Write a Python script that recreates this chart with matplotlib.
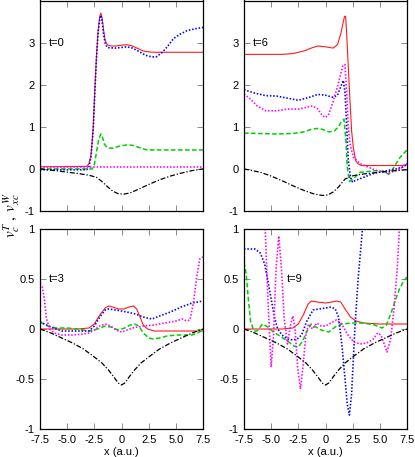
import matplotlib
matplotlib.use('Agg')
import matplotlib.pyplot as plt

plt.rcParams['font.family'] = ['Liberation Sans', 'DejaVu Sans']
plt.rcParams['mathtext.fontset'] = 'stix'

# ---------------------------------------------------------------------------
# Data
# ---------------------------------------------------------------------------

# t = 0
t0_red_x = [-7.5, -3.2, -3.0, -2.8, -2.6, -2.45, -2.3, -2.15, -2.0, -1.9, -1.8, -1.65, -1.5, -1.3,
            -1.0, -0.5, 0, 0.5, 1.0, 1.5, 2.0, 2.5, 3.0, 7.5]
t0_red_y = [0.05, 0.06, 0.12, 0.35, 1.0, 1.9, 2.7, 3.3, 3.62, 3.7, 3.6, 3.3, 3.05, 2.95,
            2.92, 2.92, 2.94, 2.95, 2.92, 2.86, 2.8, 2.78, 2.77, 2.77]
t0_blue_x = [-7.5, -3.2, -3.0, -2.8, -2.6, -2.45, -2.3, -2.15, -2.0, -1.9, -1.8, -1.65, -1.5, -1.3,
             -0.5, 0.5, 1.0, 1.6, 2.2, 2.8, 3.2, 3.8, 4.3, 4.8, 5.4, 6.0, 6.8, 7.5]
t0_blue_y = [-0.02, -0.02, 0.05, 0.3, 0.95, 1.85, 2.65, 3.25, 3.55, 3.65, 3.55, 3.2, 2.98, 2.88,
             2.87, 2.9, 2.87, 2.79, 2.7, 2.66, 2.66, 2.78, 2.93, 3.1, 3.2, 3.28, 3.33, 3.36]
t0_green_x = [-7.5, -2.7, -2.5, -2.3, -2.1, -1.9, -1.75, -1.55, -1.3, -0.8, -0.2, 0.5, 1.0, 1.6,
              2.2, 2.8, 7.5]
t0_green_y = [0.0, 0.0, 0.1, 0.4, 0.7, 0.83, 0.75, 0.58, 0.5, 0.49, 0.54, 0.57, 0.56, 0.51,
              0.46, 0.45, 0.45]
t0_mag_x = [-7.5, 7.5]
t0_mag_y = [0.05, 0.05]
t0_black_x = [-7.5, -5.5, -4, -3, -2.3, -1.8, -1.3, -0.8, -0.3, 0.2, 0.8, 1.5, 2.5, 3.5, 4.5, 5.5,
              6.5, 7.5]
t0_black_y = [0.0, -0.06, -0.11, -0.15, -0.2, -0.3, -0.42, -0.53, -0.59, -0.6, -0.57, -0.49,
              -0.37, -0.26, -0.17, -0.1, -0.04, 0.0]

# t = 6
t6_red_x = [-7.5, -4, -3, -2, -1.2, -0.7, 0, 0.7, 1.1, 1.4, 1.6, 1.75, 1.85, 1.95, 2.1, 2.25,
            2.4, 2.56, 2.77, 3.0, 3.3, 7.0, 7.5]
t6_red_y = [2.72, 2.72, 2.74, 2.8, 2.88, 2.92, 2.9, 2.87, 2.95, 3.2, 3.45, 3.62, 3.63, 3.2, 2.42,
            1.63, 0.91, 0.51, 0.2, 0.12, 0.08, 0.08, 0.1]
t6_blue_x = [-7.5, -6.5, -5.5, -4.5, -3.5, -2.5, -1.5, -0.7, 0, 0.7, 1.1, 1.4, 1.64, 1.8, 1.95,
             2.1, 2.3, 2.5, 2.7, 3.0, 3.8, 4.5, 5.5, 6.5, 7.2, 7.5]
t6_blue_y = [1.88, 1.8, 1.74, 1.73, 1.68, 1.63, 1.7, 1.77, 1.75, 1.7, 1.75, 1.95, 2.1, 1.8, 1.0,
             0.2, -0.2, -0.32, -0.28, -0.25, -0.17, -0.1, -0.05, 0.0, 0.05, 0.12]
t6_mag_x = [-7.5, -7, -6.3, -5.5, -4.5, -3.5, -2.5, -1.8, -1.2, -0.7, -0.3, 0.0, 0.3, 0.7, 1.1,
            1.4, 1.6, 1.79, 1.95, 2.1, 2.25, 2.56, 3.2, 4.7, 5.8, 6.85, 7.5]
t6_mag_y = [1.78, 1.68, 1.5, 1.38, 1.38, 1.42, 1.42, 1.46, 1.5, 1.42, 1.27, 1.22, 1.3, 1.6, 1.95,
            2.25, 2.45, 2.48, 1.8, 1.0, 0.6, 0.28, 0.12, -0.04, -0.1, 0.0, 0.13]
t6_green_x = [-7.5, -6, -4.5, -3, -2, -1.3, -0.8, -0.3, 0.3, 0.8, 1.2, 1.45, 1.7, 1.88, 2.0, 2.2,
              2.5, 3.2, 4.7, 5.4, 5.8, 6.2, 6.85, 7.5]
t6_green_y = [0.85, 0.84, 0.83, 0.84, 0.88, 0.94, 0.96, 0.94, 0.88, 0.9, 1.0, 1.12, 1.18, 0.67,
              0.05, -0.3, -0.25, -0.08, -0.04, -0.06, -0.13, 0.0, 0.27, 0.45]
t6_black_x = [-7.5, -6, -5, -4, -3, -2, -1, -0.3, 0.2, 0.7, 1.2, 1.8, 2.56, 3.5, 5.0, 6.5, 7.5]
t6_black_y = [0.0, -0.08, -0.17, -0.28, -0.4, -0.51, -0.6, -0.63, -0.62, -0.55, -0.43, -0.24,
              -0.16, -0.12, -0.08, -0.04, -0.02]

# t = 3
t3_red_x = [-7.5, -4, -3, -2.5, -2, -1.5, -1.2, -0.8, -0.3, 0.2, 0.7, 1.1, 1.4, 1.7, 2.0, 2.4,
            3, 7.5]
t3_red_y = [0.0, 0.0, 0.01, 0.05, 0.14, 0.21, 0.23, 0.22, 0.2, 0.2, 0.22, 0.23, 0.2, 0.12, 0.04,
            0.0, -0.02, -0.02]
t3_blue_x = [-7.5, -6.5, -5.5, -4, -3, -2.5, -2, -1.5, -1.2, -0.5, 0.5, 1.3, 2.0, 2.8, 3.5, 4.5,
             5.5, 6.5, 7.5]
t3_blue_y = [0.07, 0.02, -0.02, -0.02, -0.02, 0.03, 0.12, 0.19, 0.2, 0.19, 0.17, 0.15, 0.12,
             0.1, 0.13, 0.17, 0.22, 0.26, 0.28]
t3_green_x = [-7.5, -6.8, -6, -5, -4, -3, -2.2, -1.5, -1, -0.3, 0.3, 0.8, 1.2, 1.6, 2.0, 2.5,
              2.9, 3.5, 4.2, 5, 5.8, 6.5, 7, 7.5]
t3_green_y = [0.07, 0.03, 0.01, 0.01, 0.0, -0.02, 0.0, 0.03, 0.02, -0.01, 0.01, 0.04, 0.05, 0.03,
              -0.04, -0.09, -0.1, -0.09, -0.07, -0.06, -0.06, -0.06, -0.04, -0.01]
t3_mag_x = [-7.5, -7.3, -7.1, -6.9, -6.6, -6.2, -5.5, -4.5, -3.5, -3, -2.5, -2, -1.5, -1, -0.5,
            0, 0.5, 1, 1.5, 2, 3, 4, 5, 5.6, 6.0, 6.3, 6.6, 6.9, 7.2, 7.5]
t3_mag_y = [0.45, 0.43, 0.3, 0.1, 0.0, -0.04, -0.06, -0.06, -0.05, -0.04, -0.01, 0.03, 0.05,
            0.03, -0.01, -0.03, -0.01, 0.01, 0.02, 0.03, 0.04, 0.06, 0.08, 0.1, 0.08, 0.09, 0.25,
            0.5, 0.7, 0.72]

# t = 9
t9_red_x = [-7.5, -4, -3, -2.5, -2, -1.6, -1.3, -0.8, 0, 0.6, 1.0, 1.4, 1.8, 2.3, 2.8, 3.5, 5,
            7.5]
t9_red_y = [0.0, 0.0, 0.01, 0.05, 0.15, 0.25, 0.28, 0.27, 0.26, 0.27, 0.28, 0.27, 0.2, 0.12,
            0.08, 0.06, 0.05, 0.05]
t9_blue_x = [-7.5, -6.5, -6.0, -5.6, -5.3, -5.0, -4.7, -4.4, -4.0, -3.5, -3.0, -2.6, -2.2, -1.76,
             -1.15, -0.6, 0, 0.5, 0.9, 1.2, 1.5, 1.8, 2.0, 2.2, 2.4, 2.7, 3.0, 3.4, 3.7]
t9_blue_y = [0.8, 0.8, 0.76, 0.65, 0.48, 0.3, 0.12, 0.0, -0.06, -0.1, -0.11, -0.1, -0.06, 0.07,
             0.19, 0.2, 0.21, 0.22, 0.2, 0.12, -0.15, -0.5, -0.75, -0.86, -0.65, 0.0, 0.5, 1.0,
             1.3]
t9_mag_x = [-7.5, -6.5, -5.9, -5.55, -5.3, -5.0, -4.8, -4.55, -4.3, -4.05, -3.8, -3.5, -3.2, -3.0,
            -2.8, -2.55, -2.3, -2.05, -1.8, -1.55, -1.2, -0.8, -0.4, 0, 0.5, 1.0, 1.5, 2.0, 2.6,
            3.2, 3.8, 4.4, 4.8, 5.1, 5.4, 5.65, 6.0, 6.3, 6.6, 6.8, 7.0]
t9_mag_y = [2.0, 1.8, 1.4, 1.0, 0.3, -0.38, -0.1, 0.6, 0.93, 0.6, 0.1, -0.15, 0.05, 0.13, 0.0,
            -0.4, -0.6, -0.35, -0.05, 0.05, 0.0, 0.06, 0.03, 0.03, 0.06, 0.09, 0.05, -0.05,
            -0.13, -0.15, -0.14, -0.1, -0.04, -0.06, -0.15, -0.23, -0.1, 0.2, 0.6, 1.0, 1.3]
t9_green_x = [-7.5, -7.3, -7.1, -6.9, -6.6, -6.3, -5.8, -5.3, -4.8, -4.2, -3.5, -2.9, -2.5, -2.1,
              -1.7, -1.3, -0.9, -0.4, 0.3, 0.9, 1.5, 2.5, 3.5, 4.5, 5.2, 5.6, 6.0, 6.4, 6.8, 7.2,
              7.5]
t9_green_y = [0.67, 0.55, 0.3, 0.08, -0.02, -0.02, 0.05, 0.02, -0.03, -0.07, -0.12, -0.17,
              -0.18, -0.12, -0.02, 0.05, 0.02, -0.01, -0.03, 0.02, 0.05, 0.06, 0.06, 0.04, 0.01,
              0.04, 0.15, 0.28, 0.4, 0.48, 0.52]

# black reference curve, same at t=3 and t=9
t39_black_x = [-7.5, -6.5, -5.5, -4.5, -3.5, -2.5, -1.8, -1.2, -0.7, -0.3, 0, 0.3, 0.7, 1.2,
               1.8, 2.5, 3.5, 4.5, 5.5, 6.5, 7.5]
t39_black_y = [0.0, -0.04, -0.09, -0.14, -0.2, -0.28, -0.34, -0.41, -0.48, -0.54, -0.56, -0.54,
               -0.48, -0.41, -0.34, -0.28, -0.2, -0.14, -0.09, -0.04, 0.0]

x_ticks = [-7.5, -5.0, -2.5, 0, 2.5, 5.0, 7.5]
x_tick_labels = ['-7.5', '-5.0', '-2.5', '0', '2.5', '5.0', '7.5']
top_y_ticks = [-1, 0, 1, 2, 3]
bot_y_ticks = [-1, -0.5, 0, 0.5, 1]
bot_y_labels = ['-1', '-0.5', '0', '0.5', '1']

# ---------------------------------------------------------------------------
# Styles
# ---------------------------------------------------------------------------
red_kw = dict(color='#ff1a1a', lw=0.8, ls='-')
green_kw = dict(color='#00d000', lw=1.1, dashes=(3, 1.6))
blue_kw = dict(color='#0000ff', lw=1.2, dashes=(0.9, 1.1))
mag_kw = dict(color='#ff00ff', lw=1.2, dashes=(0.9, 1.1))
black_kw = dict(color='black', lw=0.9, dashes=(4, 1.5, 1, 1.5))

W, H = 415, 457
fig = plt.figure(figsize=(W / 100, H / 100), dpi=100)


def make_ax(left_px, top_px, right_px, bottom_px):
    return fig.add_axes([left_px / W, 1 - bottom_px / H,
                         (right_px - left_px) / W, (bottom_px - top_px) / H])


ax_t0 = make_ax(40, 0.5, 203, 211)
ax_t6 = make_ax(244, 0.5, 407, 211)
ax_t3 = make_ax(40, 229, 203, 429)
ax_t9 = make_ax(244, 229, 407, 429)

panels = [
    (ax_t0, 't=0', -6.7, 3.0,
     [(t0_red_x, t0_red_y, red_kw), (t0_green_x, t0_green_y, green_kw),
      (t0_blue_x, t0_blue_y, blue_kw), (t0_mag_x, t0_mag_y, mag_kw),
      (t0_black_x, t0_black_y, black_kw)]),
    (ax_t6, 't=6', -6.7, 3.0,
     [(t6_red_x, t6_red_y, red_kw), (t6_green_x, t6_green_y, green_kw),
      (t6_blue_x, t6_blue_y, blue_kw), (t6_mag_x, t6_mag_y, mag_kw),
      (t6_black_x, t6_black_y, black_kw)]),
    (ax_t3, 't=3', -6.7, 0.5,
     [(t3_red_x, t3_red_y, red_kw), (t3_green_x, t3_green_y, green_kw),
      (t3_blue_x, t3_blue_y, blue_kw), (t3_mag_x, t3_mag_y, mag_kw),
      (t39_black_x, t39_black_y, black_kw)]),
    (ax_t9, 't=9', -3.6, 0.5,
     [(t9_red_x, t9_red_y, red_kw), (t9_green_x, t9_green_y, green_kw),
      (t9_blue_x, t9_blue_y, blue_kw), (t9_mag_x, t9_mag_y, mag_kw),
      (t39_black_x, t39_black_y, black_kw)]),
]

for ax, label, lx, ly, curves in panels:
    for xs, ys, kw in curves:
        ax.plot(xs, ys, **kw)
    ax.text(lx, ly, label, fontsize=8, va='center', ha='left')
    ax.set_xlim(-7.5, 7.5)
    ax.set_xticks(x_ticks)
    ax.tick_params(direction='in', top=True, right=True, length=4, width=0.6,
                   color='#777777', labelsize=8, pad=4)
    for sp in ax.spines.values():
        sp.set_linewidth(0.9)

for ax in (ax_t0, ax_t6):
    ax.set_ylim(-1, 4)
    ax.set_yticks(top_y_ticks)
    ax.set_yticklabels([str(v) for v in top_y_ticks])
    ax.set_xticklabels([])

for ax in (ax_t3, ax_t9):
    ax.set_ylim(-1, 1)
    ax.set_yticks(bot_y_ticks)
    ax.set_yticklabels(bot_y_labels)
    ax.set_xticklabels(x_tick_labels)
    ax.set_xlabel('x (a.u.)', fontsize=8, labelpad=1.5)

fig.text(12 / W, 1 - 215 / H, r'$v_c^T\;,\;v_{xc}^W$', rotation=90,
         ha='center', va='center', fontsize=11)

fig.savefig('out.png', dpi=100)
